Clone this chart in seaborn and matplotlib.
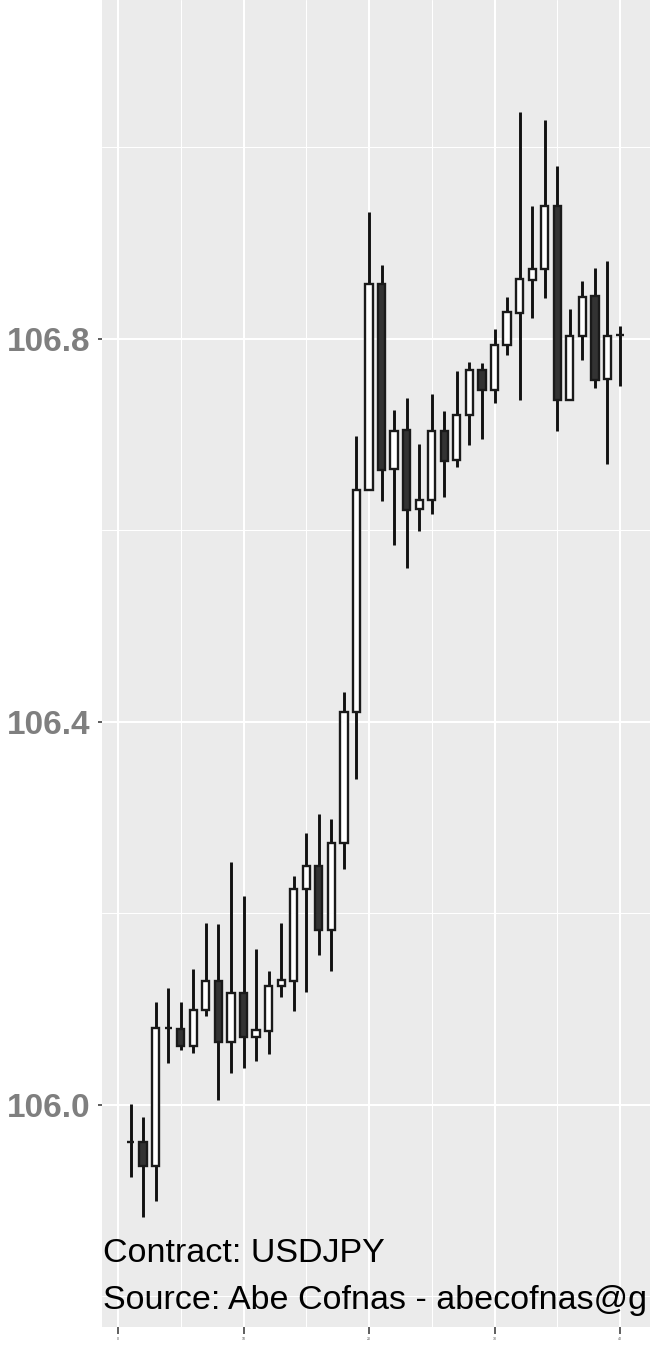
import numpy as np
import pandas as pd
import matplotlib
matplotlib.use("Agg")
import matplotlib.pyplot as plt
import seaborn as sns

# USDJPY bars
bar_index = list(range(1, 41))
opens = [105.961, 105.961, 105.936, 106.080, 106.079, 106.062, 106.099, 106.129, 106.066, 106.117,
         106.071, 106.077, 106.124, 106.129, 106.225, 106.249, 106.183, 106.273, 106.410, 106.642,
         106.857, 106.664, 106.705, 106.622, 106.632, 106.704, 106.674, 106.721, 106.768, 106.747,
         106.794, 106.827, 106.862, 106.873, 106.939, 106.736, 106.803, 106.845, 106.758, 106.804]
highs = [106.001, 105.987, 106.107, 106.122, 106.107, 106.142, 106.190, 106.189, 106.254, 106.218,
         106.163, 106.140, 106.190, 106.239, 106.284, 106.304, 106.299, 106.431, 106.699, 106.933,
         106.877, 106.726, 106.738, 106.690, 106.743, 106.725, 106.767, 106.776, 106.775, 106.810,
         106.844, 107.037, 106.939, 107.029, 106.981, 106.831, 106.860, 106.874, 106.881, 106.814]
lows = [105.925, 105.883, 105.900, 106.044, 106.057, 106.054, 106.093, 106.005, 106.033, 106.039,
        106.046, 106.053, 106.113, 106.098, 106.118, 106.157, 106.140, 106.246, 106.340, 106.642,
        106.631, 106.585, 106.561, 106.599, 106.617, 106.635, 106.666, 106.689, 106.695, 106.733,
        106.783, 106.736, 106.822, 106.843, 106.704, 106.736, 106.778, 106.749, 106.669, 106.751]
closes = [105.961, 105.936, 106.080, 106.080, 106.061, 106.099, 106.129, 106.066, 106.117, 106.071,
          106.078, 106.124, 106.130, 106.225, 106.249, 106.183, 106.273, 106.410, 106.642, 106.857,
          106.663, 106.704, 106.621, 106.632, 106.704, 106.673, 106.721, 106.768, 106.747, 106.794,
          106.828, 106.863, 106.873, 106.939, 106.736, 106.803, 106.844, 106.757, 106.803, 106.804]

y_ticks = [106.0, 106.4, 106.8]
y_tick_labels = ["106.0", "106.4", "106.8"]
x_ticks = [0, 10, 20, 30, 40]
x_tick_labels = ["0", "10", "20", "30", "40"]
# second line is cut at the panel edge in the original
caption_lines = ["Contract: USDJPY", "Source: Abe Cofnas - abecofnas@g"]

df = pd.DataFrame({"bar": bar_index, "open": opens, "high": highs,
                   "low": lows, "close": closes})
df["body_low"] = df[["open", "close"]].min(axis=1)
df["body_high"] = df[["open", "close"]].max(axis=1)
df["down"] = df["close"] < df["open"]

sns.set_theme(style="darkgrid", rc={
    "axes.facecolor": "#EBEBEB",
    "grid.color": "white",
})
plt.rcParams["font.family"] = ["Liberation Sans", "DejaVu Sans"]

fig = plt.figure(figsize=(6.5, 13.54), dpi=100)
ax = fig.add_axes([102 / 650, 27 / 1354, 548 / 650, 1327 / 1354])

# wicks
ax.vlines(df["bar"], df["low"], df["high"], color="#111111", lw=2.1, zorder=2)

# bodies
fills = np.where(df["down"], "#333333", "white")
ax.bar(df["bar"], df["body_high"] - df["body_low"], bottom=df["body_low"], width=0.58,
       color=fills, edgecolor="#1a1a1a", linewidth=1.7, zorder=3)

ax.set_xlim(-1.275, 42.39)
ax.set_ylim(105.768, 107.154)

ax.set_yticks(y_ticks)
ax.set_yticklabels(y_tick_labels)
ax.set_yticks([105.8, 106.2, 106.6, 107.0], minor=True)
ax.set_xticks(x_ticks)
ax.set_xticklabels(x_tick_labels)
ax.set_xticks([5, 15, 25, 35], minor=True)

ax.grid(which="major", color="white", lw=1.5)
ax.grid(which="minor", color="white", lw=0.75)
ax.set_axisbelow(True)
for s in ax.spines.values():
    s.set_visible(False)

ax.tick_params(axis="y", which="major", length=3, width=1.1, color="#333333", pad=5.5,
               labelsize=24, labelcolor="#7F7F7F", left=True)
for lab in ax.get_yticklabels():
    lab.set_fontweight("bold")
ax.tick_params(axis="x", which="major", length=5, width=1.1, color="#333333", pad=2,
               labelsize=2.5, labelcolor="#4d4d4d", bottom=True)
ax.tick_params(which="minor", length=0)
ax.set_xlabel("")
ax.set_ylabel("")

ax.text(0.002, (1327 - 1261.7) / 1327, caption_lines[0], transform=ax.transAxes,
        fontsize=24.5, color="black", va="baseline", ha="left", clip_on=True)
ax.text(0.002, (1327 - 1309.3) / 1327, caption_lines[1], transform=ax.transAxes,
        fontsize=24.5, color="black", va="baseline", ha="left", clip_on=True)

fig.savefig("out.png", dpi=100)
